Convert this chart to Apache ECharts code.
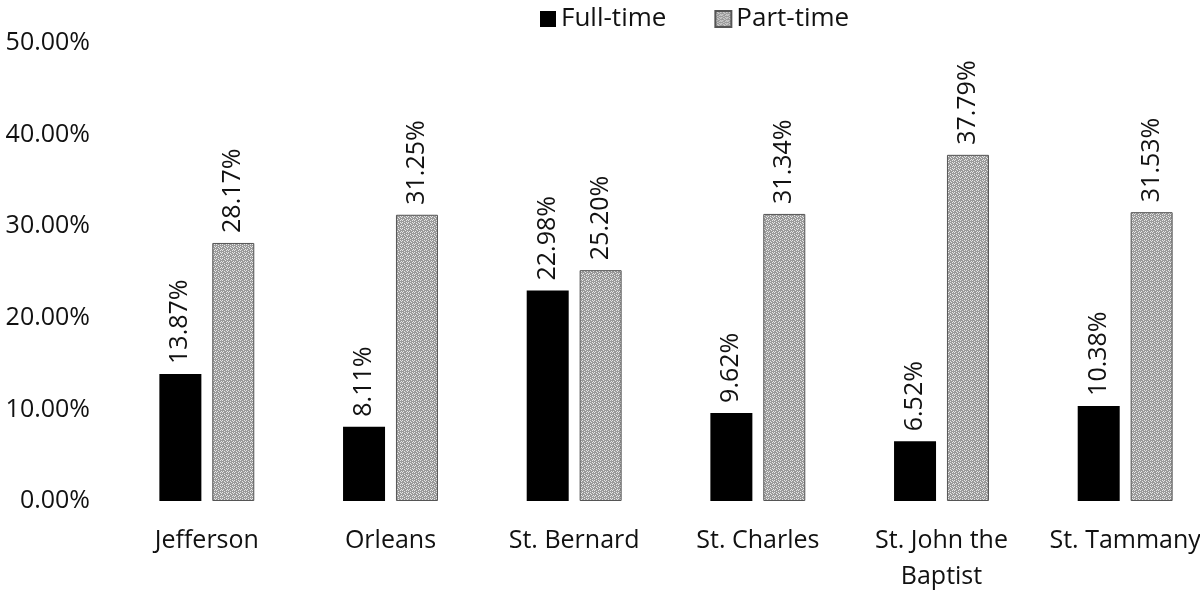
<!DOCTYPE html>
<html>
<head>
<meta charset="utf-8">
<script src="https://cdn.jsdelivr.net/npm/echarts@6/dist/echarts.min.js"></script>
<style>
  html, body { margin: 0; padding: 0; background: #fff; }
  #chart { width: 1200px; height: 590px; }
</style>
</head>
<body>
<div id="chart"></div>
<script>
const parishes = ["Jefferson", "Orleans", "St. Bernard", "St. Charles", "St. John the\nBaptist", "St. Tammany"];
const fullTime = [13.87, 8.11, 22.98, 9.62, 6.52, 10.38];
const partTime = [28.17, 31.25, 25.20, 31.34, 37.79, 31.53];

// grey speckled fill for part-time bars
const makeTexture = () => {
  const c = document.createElement("canvas");
  c.width = 6;
  c.height = 6;
  const ctx = c.getContext("2d");
  ctx.fillStyle = "#9a9a9a";
  ctx.fillRect(0, 0, 6, 6);
  ctx.fillStyle = "#e6e6e6";
  const dots = [[0, 0], [2, 1], [4, 0], [1, 3], [3, 2], [5, 3], [0, 4], [2, 5], [4, 4], [5, 1]];
  dots.forEach(([x, y]) => ctx.fillRect(x, y, 1, 1));
  return c;
};

const chart = echarts.init(document.getElementById("chart"));
const font = "'Open Sans', sans-serif";

const labelOpt = {
  show: true,
  position: "top",
  rotate: 90,
  align: "left",
  verticalAlign: "middle",
  distance: 10,
  fontSize: 25,
  fontFamily: font,
  color: "#111",
  formatter: (p) => p.value.toFixed(2) + "%",
};

chart.setOption({
  animation: false,
  legend: {
    top: 1,
    left: 535,
    icon: "rect",
    itemWidth: 16,
    itemHeight: 16,
    itemGap: 48,
    textStyle: { fontSize: 26, fontFamily: font, color: "#111" },
    data: ["Full-time", "Part-time"],
  },
  grid: { left: 115, width: 1102, top: 43, height: 458, outerBoundsMode: "none" },
  xAxis: {
    type: "category",
    data: parishes,
    axisLine: { show: false },
    axisTick: { show: false },
    axisLabel: {
      fontSize: 25,
      fontFamily: font,
      color: "#111",
      margin: 22,
      lineHeight: 36,
      interval: 0,
    },
  },
  yAxis: {
    type: "value",
    min: 0,
    max: 50,
    interval: 10,
    splitLine: { show: false },
    axisLine: { show: false },
    axisLabel: {
      fontSize: 25,
      fontFamily: font,
      color: "#111",
      margin: 25,
      formatter: (v) => v.toFixed(2) + "%",
    },
  },
  series: [
    {
      name: "Full-time",
      type: "bar",
      data: fullTime,
      barWidth: 42,
      barGap: "26%",
      itemStyle: { color: "#000" },
      label: labelOpt,
    },
    {
      name: "Part-time",
      type: "bar",
      data: partTime,
      barWidth: 42,
      itemStyle: {
        color: { image: makeTexture(), repeat: "repeat" },
        borderColor: "#555",
        borderWidth: 1,
      },
      label: labelOpt,
    },
  ],
});
</script>
</body>
</html>
